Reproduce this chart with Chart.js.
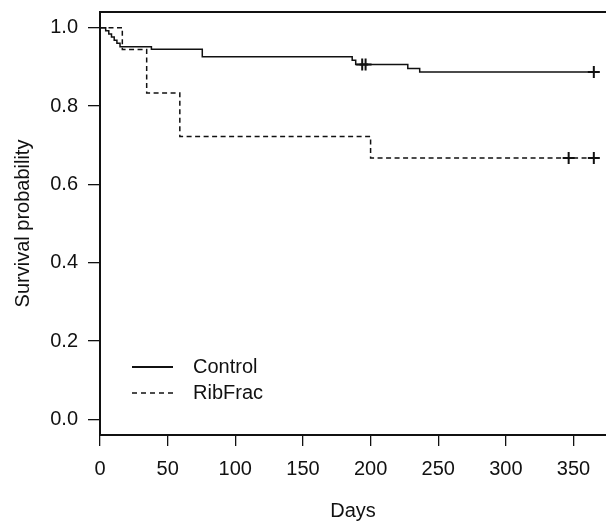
<!DOCTYPE html>
<html>
<head>
<meta charset="utf-8">
<script src="https://cdn.jsdelivr.net/npm/chart.js@4.4.1/dist/chart.umd.min.js"></script>
<style>
  html, body { margin: 0; padding: 0; background: #fff; }
  #wrap { width: 606px; height: 523px; }
</style>
</head>
<body>
<div id="wrap"><canvas id="km"></canvas></div>
<script>
// Kaplan-Meier curves
const controlDays = [0, 4.2, 6.5, 8.5, 10.5, 12.5, 14.8, 38, 75.6, 186.4, 189, 227.5, 236.3, 365];
const controlSurv = [1, 0.992, 0.984, 0.976, 0.968, 0.960, 0.951, 0.945, 0.926, 0.917, 0.906, 0.896, 0.887, 0.887];
const ribDays = [0, 16.5, 34.5, 59, 200, 365];
const ribSurv = [1, 0.944, 0.833, 0.722, 0.667, 0.667];

// censoring marks
const controlCensorDays = [193.8, 196.3, 365];
const controlCensorSurv = [0.906, 0.906, 0.887];
const ribCensorDays = [346.4, 365];
const ribCensorSurv = [0.667, 0.667];

const xTicks = [0, 50, 100, 150, 200, 250, 300, 350];
const yTicks = [0, 0.2, 0.4, 0.6, 0.8, 1.0];
const seriesNames = ["Control", "RibFrac"];

const ink = "#111";
const font = { family: "'Liberation Sans', Arial, sans-serif", size: 20 };

const toPts = (xs, ys) => xs.map((x, i) => ({ x: x, y: ys[i] }));

// box top line + legend inside the plot
const boxAndLegend = {
  id: "boxAndLegend",
  afterDraw(chart) {
    const { ctx, chartArea: a } = chart;
    ctx.save();
    ctx.strokeStyle = ink;
    ctx.lineWidth = 2;
    ctx.beginPath();
    ctx.moveTo(a.left - 1, a.top);
    ctx.lineTo(a.right, a.top);
    ctx.stroke();

    const rows = [{ dash: [], y: 367 }, { dash: [5, 4], y: 393 }];
    ctx.font = font.size + "px " + font.family;
    ctx.fillStyle = ink;
    ctx.textBaseline = "middle";
    rows.forEach((r, i) => {
      ctx.lineWidth = i === 0 ? 2 : 1.5;
      ctx.setLineDash(r.dash);
      ctx.beginPath();
      ctx.moveTo(a.left + 32, r.y);
      ctx.lineTo(a.left + 73, r.y);
      ctx.stroke();
      ctx.setLineDash([]);
      ctx.fillText(seriesNames[i], a.left + 93, r.y);
    });
    ctx.restore();
  }
};

new Chart(document.getElementById("km"), {
  type: "scatter",
  data: {
    datasets: [
      {
        label: seriesNames[0],
        data: toPts(controlDays, controlSurv),
        showLine: true,
        stepped: "before",
        borderColor: ink,
        borderWidth: 1.5,
        pointRadius: 0
      },
      {
        label: seriesNames[1],
        data: toPts(ribDays, ribSurv),
        showLine: true,
        stepped: "before",
        borderColor: ink,
        borderWidth: 1.5,
        borderDash: [5, 3.5],
        pointRadius: 0
      },
      {
        label: "censor",
        data: toPts(controlCensorDays, controlCensorSurv).concat(toPts(ribCensorDays, ribCensorSurv)),
        showLine: false,
        pointStyle: "cross",
        pointRadius: 6,
        borderColor: ink,
        borderWidth: 2
      }
    ]
  },
  options: {
    responsive: true,
    maintainAspectRatio: false,
    animation: false,
    layout: { autoPadding: false, padding: { top: 12, right: 0, bottom: 0, left: 0 } },
    plugins: {
      legend: { display: false },
      tooltip: { enabled: false }
    },
    scales: {
      x: {
        type: "linear",
        min: 0,
        max: 374,
        afterBuildTicks: (s) => { s.ticks = xTicks.map(v => ({ value: v })); },
        afterFit: (s) => { s.height = 88; s.paddingLeft = 0; s.paddingRight = 0; },
        grid: { drawOnChartArea: false, drawTicks: true, tickLength: 11, color: ink, lineWidth: 1.3 },
        border: { display: true, color: ink, width: 2 },
        ticks: { color: ink, font: font, padding: 11, maxRotation: 0 },
        title: { display: true, text: "Days", color: ink, font: font, padding: { top: 0, bottom: 0 } }
      },
      y: {
        type: "linear",
        min: -0.04,
        max: 1.04,
        afterBuildTicks: (s) => { s.ticks = yTicks.map(v => ({ value: v })); },
        afterFit: (s) => { s.width = 100; s.paddingTop = 0; s.paddingBottom = 0; },
        grid: { drawOnChartArea: false, drawTicks: true, tickLength: 12, color: ink, lineWidth: 1.3 },
        border: { display: true, color: ink, width: 2 },
        ticks: { color: ink, font: font, padding: 10, callback: (v) => v.toFixed(1) },
        title: { display: true, text: "Survival probability", color: ink, font: font, padding: { top: 11, bottom: 0 } }
      }
    }
  },
  plugins: [boxAndLegend]
});
</script>
</body>
</html>
